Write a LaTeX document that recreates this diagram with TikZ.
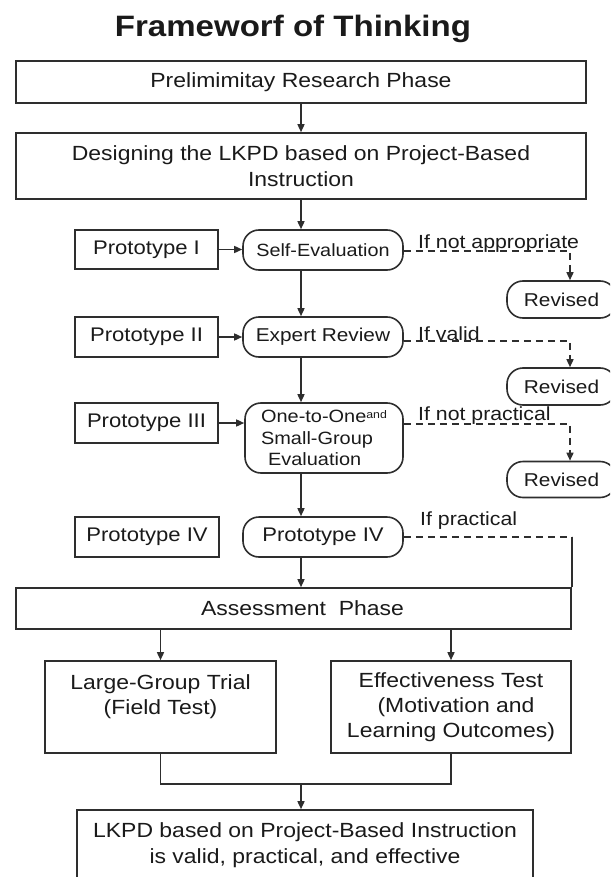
\documentclass[tikz,border=0pt]{standalone}
\usepackage{fontspec}
\setmainfont{Liberation Sans}[FakeStretch=1.12]
\usetikzlibrary{arrows.meta,calc}
\definecolor{lc}{HTML}{2E2E2E}
\definecolor{tc}{HTML}{1A1A1A}
\newcommand{\fsz}[2]{\fontsize{#1}{#2}\selectfont}
\begin{document}
\begin{tikzpicture}[x=1pt,y=-1pt,
  box/.style={draw=lc, line width=1.6pt, inner sep=0pt, text=tc, align=center},
  rbox/.style={box, rounded corners=16pt},
  tip/.style={-{Triangle[length=8pt,width=7pt]}},
  arr/.style={draw=lc, line width=1.5pt, tip},
  ln/.style={draw=lc, line width=1.5pt},
  dsh/.style={draw=lc, line width=1.5pt, dash pattern=on 7pt off 5pt},
  lab/.style={text=tc, inner sep=0pt, anchor=base west, font=\fsz{19}{22}}]
\path[use as bounding box] (0,0) rectangle (610,877);
\clip (0,0) rectangle (610,877);
\node[anchor=base, text=tc, inner sep=0pt, font=\bfseries\fsz{29.5}{32}] (title) at (293,37) {Frameworf of Thinking};
\node[box, minimum width=570pt, minimum height=42pt, font=\fsz{20.5}{25}] (pre) at (301,82) {Prelimimitay Research Phase};
\node[box, minimum width=570pt, minimum height=66pt, font=\fsz{20.5}{26}] (des) at (301,166) {Designing the LKPD based on Project-Based\\Instruction};
\node[box, minimum width=143pt, minimum height=39pt, font=\fsz{19.7}{23}] (p1) at (146.5,249.5) {Prototype I};
\node[rbox, minimum width=160pt, minimum height=40pt, font=\fsz{17.7}{21}] (se) at (323,250) {Self-Evaluation};
\node[box, minimum width=143pt, minimum height=40pt, font=\fsz{19.7}{23}] (p2) at (146.5,337) {Prototype II};
\node[rbox, minimum width=160pt, minimum height=40pt, font=\fsz{18.6}{22}] (er) at (323,337) {Expert Review};
\node[box, minimum width=143pt, minimum height=40pt, font=\fsz{19.7}{23}] (p3) at (146.5,423) {Prototype III};
\node[rbox, minimum width=158pt, minimum height=70pt, align=left, font=\fsz{17.8}{21.5}] (oo) at (324,438) {One-to-One\raisebox{4pt}{\fsz{11}{11}and}\\Small-Group\\\hspace*{7pt}Evaluation};
\node[box, minimum width=144pt, minimum height=40pt, font=\fsz{19.7}{23}] (p4) at (147,537) {Prototype IV};
\node[rbox, minimum width=160pt, minimum height=40pt, font=\fsz{19.7}{23}] (pn) at (323,537) {Prototype IV};
\node[rbox, minimum width=109pt, minimum height=37pt, font=\fsz{18.6}{22}] (r1) at (561.5,299.5) {Revised};
\node[rbox, minimum width=109pt, minimum height=37pt, font=\fsz{18.6}{22}] (r2) at (561.5,386.5) {Revised};
\node[rbox, minimum width=109pt, minimum height=36pt, font=\fsz{18.6}{22}] (r3) at (561.5,479.5) {Revised};
\node[box, minimum width=555pt, minimum height=41pt, font=\fsz{20.5}{25}] (as) at (293.5,608.5) {\hspace*{18pt}Assessment\ \ Phase};
\node[box, minimum width=231pt, minimum height=92pt, font=\fsz{20.5}{25}] (lg) at (160.5,707) {Large-Group Trial\\(Field Test)\\\mbox{}};
\node[box, minimum width=240pt, minimum height=92pt, font=\fsz{20.5}{25}] (ef) at (451,707) {Effectiveness Test\\\hspace*{10pt}(Motivation and\\Learning Outcomes)};
\node[box, minimum width=456pt, minimum height=70pt, font=\fsz{20.5}{26}] (fin) at (305,845) {LKPD based on Project-Based Instruction\\is valid, practical, and effective};
% labels
\node[lab] (l1) at (418,248) {If not appropriate};
\node[lab] (l2) at (418,340) {If valid};
\node[lab] (l3) at (418,420) {If not practical};
\node[lab] (l4) at (420,525) {If practical};
% spine
\draw[arr] (pre.south) -- (des.north);
\draw[arr] (des.south) -- (des.south |- se.north);
\draw[arr] (des.south |- se.south) -- (des.south |- er.north);
\draw[arr] (des.south |- er.south) -- (des.south |- oo.north);
\draw[arr] (des.south |- oo.south) -- (des.south |- pn.north);
\draw[arr] (des.south |- pn.south) -- (des.south |- as.north);
% prototypes
\draw[arr] (p1.east) -- (p1.east -| se.west);
\draw[arr] (p2.east) -- (p2.east -| er.west);
\draw[arr] (p3.east) -- (p3.east -| oo.west);
% dashed branches
\draw[dsh, tip] ([yshift=-1pt]se.east) -| ([xshift=8.5pt]r1.north);
\draw[dsh, tip] ([yshift=-4pt]er.east) -| ([xshift=8.5pt]r2.north);
\draw[dsh, tip] ([yshift=14pt]oo.east) -| ([xshift=8.5pt]r3.north);
\draw[dsh] (pn.east) -- (pn.east -| as.east);
\draw[ln] (pn.east -| as.east) -- (as.north east);
% bottom
\draw[arr] (lg.north |- as.south) -- (lg.north);
\draw[arr] (ef.north |- as.south) -- (ef.north);
\coordinate (j) at (301,784);
\draw[ln] (lg.south) |- (j) -| (ef.south);
\draw[arr] (j) -- (j |- fin.north);
\end{tikzpicture}
\end{document}
